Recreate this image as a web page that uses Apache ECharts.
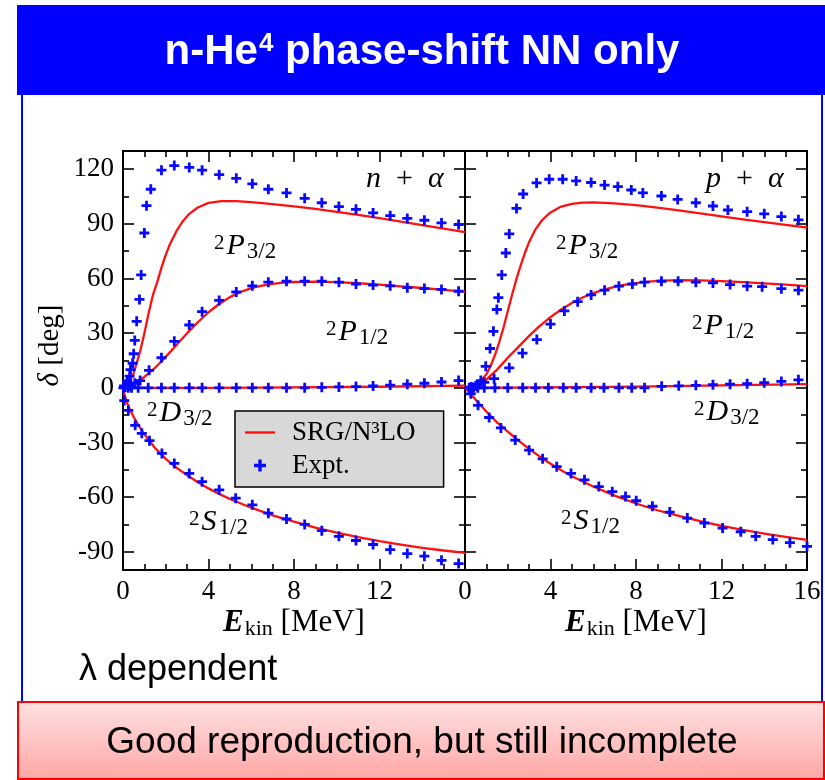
<!DOCTYPE html>
<html><head><meta charset="utf-8">
<script src="https://cdn.jsdelivr.net/npm/echarts@6/dist/echarts.min.js"></script>
<style>html,body{margin:0;padding:0;background:#fff}#c{width:825px;height:780px}</style>
</head><body><div id="c"></div>
<script>
// ---------- data ----------
const xTickStep = 4;
const yMajorTicks = [-90, -60, -30, 0, 30, 60, 90, 120];
const yMinorTicks = [-75, -45, -15, 15, 45, 75, 105];

// n + alpha : SRG/N3LO calculation
const nP32Calc = [[0,0],[0.3,3],[0.5,8],[0.8,20],[1.0,30],[1.2,41],[1.4,51],[1.6,58],[1.8,66],[2.0,73],[2.2,79],[2.5,86],[2.8,91.5],[3.1,95.5],[3.5,99],[4.0,101.5],[4.6,102.5],[5.3,102.5],[6.0,101.9],[7.0,100.8],[8.0,99.6],[9.0,98.2],[10.0,96.6],[11.0,94.9],[12.0,93.1],[13.0,91.2],[14.0,89.3],[15.0,87.4],[16.0,85.5]];
const nP12Calc = [[0,0],[0.5,2.5],[1.0,6],[1.5,11],[2.0,17],[2.5,23.5],[3.0,30],[3.5,36],[4.0,41.5],[4.5,46],[5.0,49.8],[5.5,52.6],[6.0,54.7],[6.5,56.1],[7.0,57.1],[7.5,57.7],[8.0,58.1],[9.0,58.3],[10.0,58.0],[11.0,57.4],[12.0,56.6],[13.0,55.7],[14.0,54.8],[15.0,53.8],[16.0,52.8]];
const nD32Calc = [[0,0],[4,0],[8,0.2],[12,0.6],[16,1.2]];
const nS12Calc = [[0,0],[0.1,-5],[0.2,-8.5],[0.35,-12.5],[0.5,-16],[0.75,-21],[1.0,-25.5],[1.5,-33],[2.0,-39],[2.5,-43.8],[3.0,-48],[3.5,-51.8],[4.0,-55.2],[4.5,-58.2],[5.0,-61],[6.0,-65.8],[7.0,-70],[8.0,-73.5],[9.0,-76.7],[10.0,-79.5],[11.0,-82],[12.0,-84.2],[13.0,-86.1],[14.0,-87.8],[15.0,-89.3],[16.0,-90.6]];
// n + alpha : experiment
const nP32Expt = [[0.05,1],[0.2,4],[0.31,6.4],[0.35,10],[0.45,13.5],[0.5,18.7],[0.55,26],[0.64,36.5],[0.77,48.5],[0.85,62],[1.0,85],[1.1,100],[1.3,109],[1.8,119.5],[2.4,122],[3.1,121],[3.7,119.5],[4.5,117],[5.3,115],[6.05,112],[6.8,109],[7.65,107],[8.5,104],[9.3,101.6],[10.1,99.5],[10.9,98],[11.7,96],[12.5,94.5],[13.3,93],[14.1,92],[14.9,90.5],[15.7,89.6]];
const nP12Expt = [[0.1,0.5],[0.3,1],[0.55,2.5],[0.8,4],[1.22,9.6],[1.8,16.5],[2.4,25.5],[3.1,34.5],[3.7,41.8],[4.5,48],[5.3,52.6],[6.05,56],[6.8,58],[7.65,58.5],[8.5,58.5],[9.3,58.5],[10.1,58],[10.9,57],[11.7,56.4],[12.5,56],[13.3,55],[14.1,54.5],[14.9,54],[15.7,53]];
const nD32Expt = [[0.02,0],[0.24,0],[0.4,0],[0.71,0],[1.18,0],[1.8,0],[2.4,0],[3.1,0],[3.7,0],[4.5,0],[5.3,0],[6.05,0],[6.8,0],[7.65,0],[8.5,0],[9.3,0.3],[10.1,0.5],[10.9,0.7],[11.7,1],[12.5,1.5],[13.3,2],[14.1,2.5],[14.9,3.2],[15.7,4]];
const nS12Expt = [[0.06,-7],[0.25,-12.4],[0.57,-20.6],[0.88,-25],[1.24,-29],[1.82,-36],[2.4,-41.5],[3.1,-47],[3.7,-51.5],[4.5,-56],[5.27,-60.6],[6.05,-64.2],[6.8,-68.8],[7.65,-72],[8.5,-75],[9.3,-78.4],[10.1,-81.5],[10.9,-83.8],[11.7,-86],[12.5,-88.8],[13.3,-91],[14.1,-92.4],[14.9,-94.7],[15.7,-96.5]];

// p + alpha : SRG/N3LO calculation
const pP32Calc = [[0,0],[0.4,1],[0.7,3],[1.0,7.5],[1.2,12],[1.4,18],[1.6,25],[1.8,33],[2.0,42],[2.2,51],[2.4,59.5],[2.6,67],[2.8,74],[3.0,80],[3.3,87],[3.6,92],[4.0,96.3],[4.5,99.5],[5.0,101],[5.5,101.7],[6.0,101.8],[7.0,101.3],[8.0,100.3],[9.0,98.9],[10.0,97.4],[11.0,95.8],[12.0,94.1],[13.0,92.5],[14.0,91],[15.0,89.5],[16.0,88]];
const pP12Calc = [[0,0],[0.5,1],[1.0,4.5],[1.5,10],[2.0,16.5],[2.5,22.5],[3.0,28.5],[3.5,34],[4.0,38.8],[4.5,43],[5.0,46.6],[5.5,49.6],[6.0,52],[6.5,53.9],[7.0,55.4],[7.5,56.6],[8.0,57.5],[8.5,58.2],[9.0,58.7],[10.0,59.1],[11.0,59.0],[12.0,58.6],[13.0,58.0],[14.0,57.3],[15.0,56.6],[16.0,55.8]];
const pD32Calc = [[0,0],[4,0.2],[8,0.7],[12,1.3],[16,2]];
const pS12Calc = [[0,0],[0.2,-2.5],[0.5,-6.5],[1.0,-13],[1.5,-19],[2.0,-24],[2.5,-29],[3.0,-33.5],[3.5,-37.8],[4.0,-41.7],[4.5,-45.2],[5.0,-48.5],[6.0,-54.2],[7.0,-59.2],[8.0,-63.5],[9.0,-67.2],[10.0,-70.3],[11.0,-73.2],[12.0,-75.8],[13.0,-78],[14.0,-80],[15.0,-81.8],[16.0,-83.5]];
// p + alpha : experiment
const pP32Expt = [[0.3,0],[0.5,1],[0.74,4],[0.97,11.8],[1.17,21.6],[1.33,31],[1.49,43],[1.56,49.5],[1.72,62],[1.91,74],[2.07,84.5],[2.41,98.5],[2.72,106.4],[3.35,112.5],[3.94,114.5],[4.57,114.5],[5.2,113.6],[5.9,112.7],[6.53,111.3],[7.15,110.4],[7.78,108.6],[8.32,107],[9.19,105.3],[9.95,103.4],[10.8,101.6],[11.6,99.8],[12.3,97.6],[13.2,96.7],[14.0,95.5],[14.8,94],[15.6,92.2]];
const pP12Expt = [[0.3,0.5],[0.6,1.5],[0.9,3],[1.36,5],[2.07,11],[2.69,19],[3.36,26.5],[4.0,35],[4.65,42.2],[5.27,47.3],[5.9,51],[6.53,53.6],[7.2,55.8],[7.83,57],[8.4,58],[9.19,58.5],[9.97,58.5],[10.8,58],[11.6,57.6],[12.4,56.7],[13.2,55.8],[13.9,55.5],[14.8,54.4],[15.6,53.6]];
const pD32Expt = [[0.2,0],[0.4,0],[0.6,0],[0.9,0],[1.4,0],[2.0,0],[2.7,0],[3.3,0],[3.9,0],[4.6,0],[5.2,0],[5.9,0],[6.5,0],[7.2,0],[7.8,0],[8.4,0],[9.2,0.8],[10.0,1.1],[10.8,1.4],[11.6,1.7],[12.4,2],[13.2,2.3],[14.0,2.8],[14.8,3.5],[15.6,4.4]];
const pS12Expt = [[0.27,-3.3],[0.61,-9.6],[1.13,-16.3],[1.68,-22],[2.35,-28.7],[3.0,-34.2],[3.63,-39],[4.29,-43.3],[4.96,-47],[5.59,-50.5],[6.26,-54.2],[6.89,-57],[7.51,-59.7],[8.01,-62],[8.77,-65],[9.58,-68.2],[10.4,-71.5],[11.2,-74.2],[12.05,-77],[12.9,-79],[13.6,-81.5],[14.4,-83.3],[15.2,-85],[16.0,-87]];

const calcName = 'SRG/N\u00b3LO';
const exptName = 'Expt.';

// ---------- styling / layout ----------
const SERIF = 'Liberation Serif';
const SANS = 'Liberation Sans';
const RED = '#ff1010';
const BLUE = '#0808ff';
const PLUS = 'path://M3.6,0h2.8v3.6h3.6v2.8h-3.6v3.6h-2.8v-3.6h-3.6v-2.8h3.6z';
const LINE_ICON = 'path://M0,0h30v2.4h-30z';

const grids = [
  {left: 123, top: 151, width: 342, height: 419, show: true, borderColor: '#000', borderWidth: 2, backgroundColor: 'transparent'},
  {left: 465, top: 151, width: 342, height: 419, show: true, borderColor: '#000', borderWidth: 2, backgroundColor: 'transparent'}
];

const tickLine = {color: '#000', width: 1.6};
const xNameRich = {
  e: {fontFamily: SERIF, fontSize: 31, fontWeight: 'bold', fontStyle: 'italic', color: '#000', lineHeight: 34},
  k: {fontFamily: SERIF, fontSize: 22, color: '#000', lineHeight: 22, padding: [14, 0, 0, 1], verticalAlign: 'bottom'},
  t: {fontFamily: SERIF, fontSize: 31, color: '#000', lineHeight: 34}
};

function xAxesFor(g) {
  const base = {
    type: 'value', gridIndex: g, min: 0, max: 16, interval: xTickStep,
    axisLine: {show: false, onZero: false},
    splitLine: {show: false}, minorSplitLine: {show: false},
    axisTick: {show: true, inside: true, length: 11, lineStyle: tickLine},
    minorTick: {show: true, splitNumber: 4, length: 6, lineStyle: tickLine}
  };
  return [
    Object.assign({}, base, {
      position: 'bottom',
      axisLabel: {show: true, fontFamily: SERIF, fontSize: 27, color: '#000', margin: 8,
        formatter: v => (g === 0 && v === 16) ? '' : String(v)},
      name: '{e|E}{k|kin}{t| [MeV]}', nameLocation: 'middle', nameGap: 36, nameMoveOverlap: false,
      nameTextStyle: {rich: xNameRich}
    }),
    Object.assign({}, base, {position: 'top', axisLabel: {show: false}})
  ];
}

function yAxesFor(g) {
  const base = {
    type: 'value', gridIndex: g, min: -100, max: 130,
    axisLine: {show: false, onZero: false},
    splitLine: {show: false}
  };
  const major = {show: true, inside: true, length: 11, lineStyle: tickLine, customValues: yMajorTicks};
  const minor = {show: true, inside: true, length: 6, lineStyle: tickLine, customValues: yMinorTicks};
  const leftMajor = Object.assign({}, base, {
    position: 'left', axisTick: major,
    axisLabel: g === 0 ? {show: true, customValues: yMajorTicks, fontFamily: SERIF, fontSize: 27, color: '#000', margin: 9} : {show: false}
  });
  if (g === 0) {
    leftMajor.name = '{d|\u03b4}{t| [deg]}';
    leftMajor.nameLocation = 'middle';
    leftMajor.nameRotate = 90;
    leftMajor.nameGap = 58;
    leftMajor.nameTextStyle = {padding: [0, 0, 0, 30], rich: {
      d: {fontFamily: SERIF, fontSize: 29, fontStyle: 'italic', color: '#000'},
      t: {fontFamily: SERIF, fontSize: 29, color: '#000'}
    }};
  }
  return [
    leftMajor,
    Object.assign({}, base, {position: 'left', axisTick: minor, axisLabel: {show: false}}),
    Object.assign({}, base, {position: 'right', axisTick: major, axisLabel: {show: false}}),
    Object.assign({}, base, {position: 'right', axisTick: minor, axisLabel: {show: false}})
  ];
}

function calcSeries(data, g) {
  return {type: 'line', name: calcName, data: data, xAxisIndex: g * 2, yAxisIndex: g * 4,
    smooth: false, showSymbol: false, symbol: 'none',
    lineStyle: {color: RED, width: 2.3, join: 'round'}, itemStyle: {color: RED}, z: 3, silent: true};
}
function exptSeries(data, g) {
  return {type: 'scatter', name: exptName, data: data, xAxisIndex: g * 2, yAxisIndex: g * 4,
    symbol: PLUS, symbolSize: 10, itemStyle: {color: BLUE, opacity: 1}, z: 4, silent: true};
}

const series = [
  calcSeries(nP32Calc, 0), calcSeries(nP12Calc, 0), calcSeries(nD32Calc, 0), calcSeries(nS12Calc, 0),
  calcSeries(pP32Calc, 1), calcSeries(pP12Calc, 1), calcSeries(pD32Calc, 1), calcSeries(pS12Calc, 1),
  exptSeries(nP32Expt, 0), exptSeries(nP12Expt, 0), exptSeries(nD32Expt, 0), exptSeries(nS12Expt, 0),
  exptSeries(pP32Expt, 1), exptSeries(pP12Expt, 1), exptSeries(pD32Expt, 1), exptSeries(pS12Expt, 1)
];

// in-plot annotations (text)
const waveRich = {
  sp: {fontFamily: SERIF, fontSize: 21, color: '#000', lineHeight: 21, padding: [4, 2, 0, 0], verticalAlign: 'top'},
  it: {fontFamily: SERIF, fontSize: 30, fontStyle: 'italic', color: '#000', lineHeight: 34},
  sb: {fontFamily: SERIF, fontSize: 23, color: '#000', lineHeight: 23, padding: [15, 0, 0, 2], verticalAlign: 'bottom'},
  up: {fontFamily: SERIF, fontSize: 30, color: '#000', lineHeight: 34}
};
function wave(L, sub) { return '{sp|2}{it|' + L + '}{sb|' + sub + '}'; }
function note(x, y, text) {
  return {type: 'text', x: x, y: y, z: 10, silent: true,
    style: {text: text, rich: waveRich, align: 'left', verticalAlign: 'middle', textAlign: 'left', textVerticalAlign: 'middle'}};
}

const graphic = [
  // slide header
  {type: 'rect', shape: {x: 17, y: 5, width: 808, height: 90}, style: {fill: '#0000ff'}, z: 1, silent: true},
  {type: 'text', x: 422, y: 52, z: 2, silent: true,
    style: {text: 'n-He{s|4} phase-shift NN only', fill: '#fff', font: 'bold 42px ' + SANS,
      align: 'center', verticalAlign: 'middle', textAlign: 'center', textVerticalAlign: 'middle',
      rich: {s: {fontFamily: SANS, fontWeight: 'bold', fontSize: 26, fill: '#fff', color: '#fff', verticalAlign: 'top', lineHeight: 26, padding: [0, 0, 14, 1]}}}},
  // content frame
  {type: 'line', shape: {x1: 22, y1: 95, x2: 22, y2: 702}, style: {stroke: '#0000ff', lineWidth: 2}, z: 1, silent: true},
  {type: 'line', shape: {x1: 822, y1: 95, x2: 822, y2: 702}, style: {stroke: '#0000ff', lineWidth: 2}, z: 1, silent: true},
  {type: 'text', x: 79, y: 670, z: 2, silent: true,
    style: {text: '\u03bb dependent', fill: '#000', font: '36px ' + SANS, align: 'left', verticalAlign: 'middle', textAlign: 'left', textVerticalAlign: 'middle'}},
  // pink conclusion box
  {type: 'rect', shape: {x: 18, y: 702, width: 806, height: 77},
    style: {fill: new echarts.graphic.LinearGradient(0, 0, 0, 1, [{offset: 0, color: '#ffe2e2'}, {offset: 1, color: '#ffa6a6'}]),
      stroke: '#ff0000', lineWidth: 2}, z: 1, silent: true},
  {type: 'text', x: 422, y: 743, z: 2, silent: true,
    style: {text: 'Good reproduction, but still incomplete', fill: '#000', font: '37px ' + SANS,
      align: 'center', verticalAlign: 'middle', textAlign: 'center', textVerticalAlign: 'middle'}},
  // annotations, left panel
  note(366, 179, '{it|n}{up|\u2002+\u2002}{it|\u03b1}'),
  note(214, 246, wave('P', '3/2')),
  note(326, 332, wave('P', '1/2')),
  note(147, 413, wave('D', '3/2')),
  note(189, 522, wave('S', '1/2')),
  // annotations, right panel
  note(706, 179, '{it|p}{up|\u2002+\u2002}{it|\u03b1}'),
  note(556, 246, wave('P', '3/2')),
  note(692, 326, wave('P', '1/2')),
  note(694, 412, wave('D', '3/2')),
  note(561, 521, wave('S', '1/2'))
];

const option = {
  backgroundColor: '#ffffff',
  animation: false,
  grid: grids,
  xAxis: xAxesFor(0).concat(xAxesFor(1)),
  yAxis: yAxesFor(0).concat(yAxesFor(1)),
  legend: {
    data: [{name: calcName, icon: LINE_ICON}, {name: exptName}],
    orient: 'vertical', left: 235, top: 411,
    backgroundColor: '#d8d8d8', borderColor: '#000', borderWidth: 1.5, borderRadius: 0,
    padding: [8, 28, 8, 10], itemGap: 6, itemWidth: 30, itemHeight: 12,
    textStyle: {fontFamily: SERIF, fontSize: 27, color: '#000', padding: [0, 0, 0, 12]},
    selectedMode: false, z: 8
  },
  series: series,
  graphic: graphic
};

const chart = echarts.init(document.getElementById('c'));
chart.setOption(option);
</script>
</body></html>
